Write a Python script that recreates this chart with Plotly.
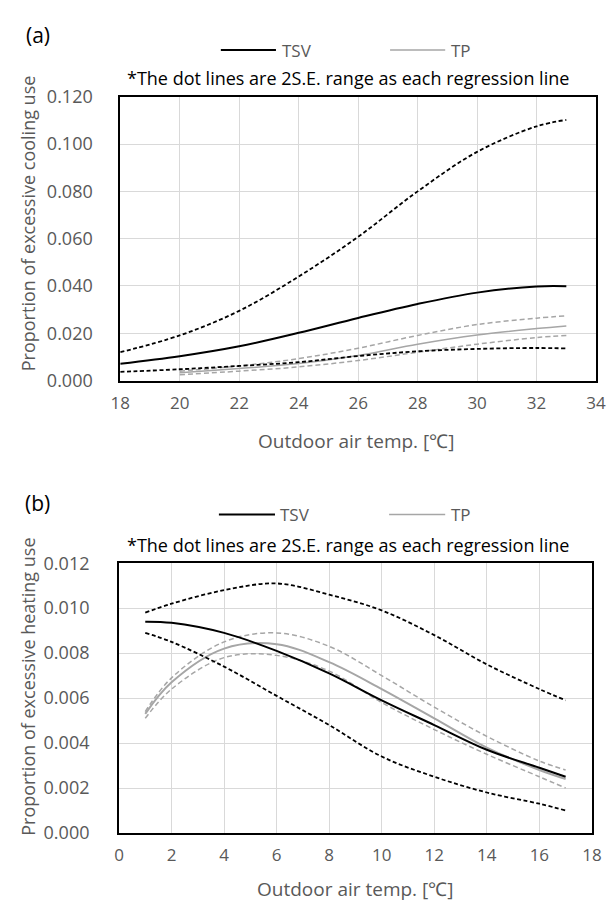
import plotly.graph_objects as go

W, H = 608, 917

# ---------------- data: panel (a) cooling ----------------
x_tsv_a = [18, 20, 22, 24, 26, 28, 30, 32, 33]
tsv_a = [0.0071, 0.0103, 0.0145, 0.0202, 0.0265, 0.0324, 0.0372, 0.0398, 0.0399]
tsv_a_hi = [0.0120, 0.0191, 0.0295, 0.0440, 0.0608, 0.0800, 0.0967, 0.1075, 0.1102]
tsv_a_lo = [0.0037, 0.0048, 0.0062, 0.0078, 0.0104, 0.0124, 0.0134, 0.0138, 0.0136]

x_tp_a = [20, 22, 24, 26, 28, 30, 32, 33]
tp_a = [0.0033, 0.0051, 0.0072, 0.0106, 0.0154, 0.0193, 0.0220, 0.0231]
tp_a_hi = [0.0040, 0.0062, 0.0093, 0.0137, 0.0191, 0.0237, 0.0264, 0.0274]
tp_a_lo = [0.0025, 0.0040, 0.0058, 0.0085, 0.0120, 0.0154, 0.0182, 0.0191]

# ---------------- data: panel (b) heating ----------------
x_b = [1, 2, 4, 6, 8, 10, 12, 14, 16, 17]
tsv_b = [0.0094, 0.00935, 0.0089, 0.0081, 0.0071, 0.0059, 0.0048, 0.0037, 0.0029, 0.0025]
tsv_b_hi = [0.0098, 0.0102, 0.0108, 0.0111, 0.0106, 0.0099, 0.0088, 0.0075, 0.0064, 0.0059]
tsv_b_lo = [0.0089, 0.0085, 0.0074, 0.0061, 0.0048, 0.0034, 0.0025, 0.0018, 0.0013, 0.0010]
tp_b = [0.0053, 0.0067, 0.0082, 0.0084, 0.0076, 0.0064, 0.0051, 0.0038, 0.0028, 0.0024]
tp_b_hi = [0.0054, 0.0069, 0.0085, 0.0089, 0.0083, 0.0070, 0.0056, 0.0043, 0.0032, 0.0028]
tp_b_lo = [0.0051, 0.0064, 0.0078, 0.0079, 0.0072, 0.0058, 0.0046, 0.0035, 0.0025, 0.0020]

# axis ticks / labels
x_ticks_a = [18, 20, 22, 24, 26, 28, 30, 32, 34]
y_ticks_a = [0.0, 0.02, 0.04, 0.06, 0.08, 0.10, 0.12]
x_ticks_b = [0, 2, 4, 6, 8, 10, 12, 14, 16, 18]
y_ticks_b = [0.0, 0.002, 0.004, 0.006, 0.008, 0.010, 0.012]

FONT = "Open Sans"
GREY_TXT = "#595959"
BLACK = "#000000"
GREY = "#a6a6a6"


def px(x):
    return x / W


def py(y):
    return 1 - y / H


fig = go.Figure()


def add(xs, ys, xa, ya, color, width, dash):
    fig.add_trace(go.Scatter(
        x=xs, y=ys, mode="lines", xaxis=xa, yaxis=ya,
        line=dict(color=color, width=width, dash=dash, shape="spline", smoothing=1),
        showlegend=False, hoverinfo="skip"))


BD = "4px,2.5px"
GD = "5px,3px"
# panel a
add(x_tp_a, tp_a_hi, "x", "y", GREY, 1.5, GD)
add(x_tp_a, tp_a_lo, "x", "y", GREY, 1.5, GD)
add(x_tp_a, tp_a, "x", "y", GREY, 1.5, "solid")
add(x_tsv_a, tsv_a_hi, "x", "y", BLACK, 1.8, BD)
add(x_tsv_a, tsv_a_lo, "x", "y", BLACK, 1.8, BD)
add(x_tsv_a, tsv_a, "x", "y", BLACK, 2, "solid")
# panel b
add(x_b, tp_b_hi, "x2", "y2", GREY, 1.5, GD)
add(x_b, tp_b_lo, "x2", "y2", GREY, 1.5, GD)
add(x_b, tp_b, "x2", "y2", GREY, 2, "solid")
add(x_b, tsv_b_hi, "x2", "y2", BLACK, 1.8, BD)
add(x_b, tsv_b_lo, "x2", "y2", BLACK, 1.8, BD)
add(x_b, tsv_b, "x2", "y2", BLACK, 2, "solid")

axis_common = dict(
    showgrid=True, gridcolor="#d9d9d9", gridwidth=1,
    showline=True, linecolor="black", linewidth=1.8, mirror=True,
    ticks="", zeroline=False, ticklabeloverflow="allow",
)
xfont = dict(family=FONT, size=17, color=GREY_TXT)
yfont = dict(family=FONT, size=18, color=GREY_TXT)

fig.update_layout(
    width=W, height=H, autosize=False,
    margin=dict(l=0, r=0, t=0, b=0),
    paper_bgcolor="white", plot_bgcolor="white",
    showlegend=False,
    xaxis=dict(domain=[px(114), px(606)], range=[18, 34], tickvals=x_ticks_a,
               anchor="y", ticklabelstandoff=6, tickfont=xfont, **axis_common),
    yaxis=dict(domain=[py(377.5), py(86)], range=[0, 0.12], tickvals=y_ticks_a,
               tickformat=".3f", anchor="x", ticklabelstandoff=22, tickfont=yfont, **axis_common),
    xaxis2=dict(domain=[px(112.7), px(601.7)], range=[0, 18], tickvals=x_ticks_b,
                anchor="y2", ticklabelstandoff=6, tickfont=xfont, **axis_common),
    yaxis2=dict(domain=[py(842), py(565)], range=[0, 0.012], tickvals=y_ticks_b,
                tickformat=".3f", anchor="x2", ticklabelstandoff=24, tickfont=yfont, **axis_common),
)

ann = []
shapes = []


def text(x, y, s, size, color, xanchor="center", angle=0):
    ann.append(dict(x=px(x), y=py(y), xref="paper", yref="paper", text=s,
                    showarrow=False, xanchor=xanchor, yanchor="middle", textangle=angle,
                    font=dict(family=FONT, size=size, color=color)))


def legend(y, x0s, x1s, xt):
    for (a, b), c, lab, t in zip([(x0s[0], x1s[0]), (x0s[1], x1s[1])], [BLACK, GREY], ["TSV", "TP"], xt):
        shapes.append(dict(type="line", xref="paper", yref="paper",
                           x0=px(a), x1=px(b), y0=py(y), y1=py(y),
                           line=dict(color=c, width=2 if c == BLACK else 1.5)))
        text(t, y, lab, 17, GREY_TXT, xanchor="left")


note = "*The dot lines are 2S.E. range as each regression line"
# panel a decorations
text(29, 23, "(a)", 21, BLACK)
legend(38, [218, 393], [275, 450], [279, 454])
text(350, 67, note, 18, BLACK)
text(18.5, 216, "Proportion of excessive cooling use", 18, GREY_TXT, angle=-90)
text(358, 440, "Outdoor air temp. [℃]", 19, GREY_TXT)
# panel b decorations
text(28, 503, "(b)", 21, BLACK)
legend(515, [216, 392], [274, 450], [277, 454])
text(350, 546, note, 18, BLACK)
text(18.5, 692, "Proportion of excessive heating use", 18, GREY_TXT, angle=-90)
text(357, 900, "Outdoor air temp. [℃]", 19, GREY_TXT)

fig.update_layout(annotations=ann, shapes=shapes)
fig.write_html("out.html", config={"displayModeBar": False},
               post_script="document.body.style.margin='0';document.body.style.overflow='hidden';")
